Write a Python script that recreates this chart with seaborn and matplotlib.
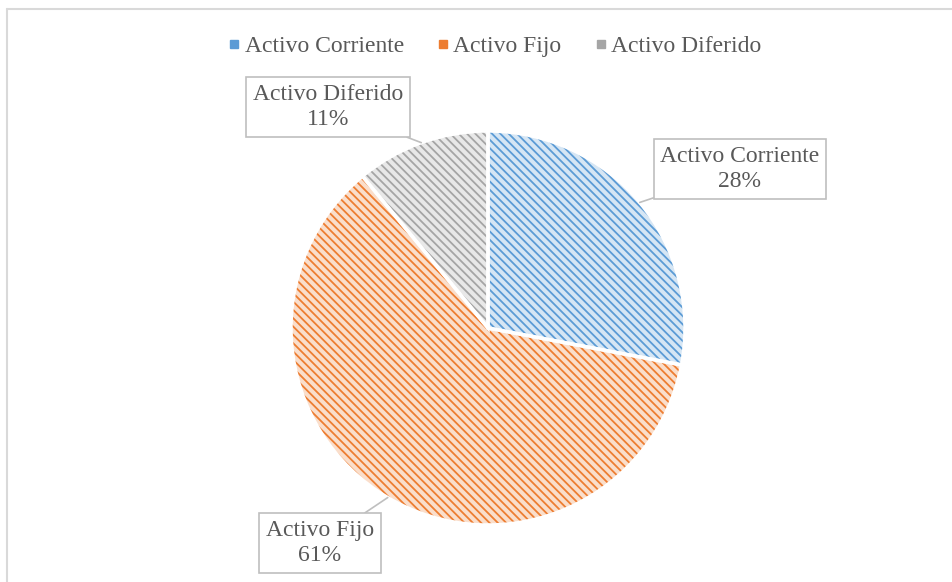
import numpy as np
import seaborn as sns
import matplotlib.pyplot as plt
from matplotlib.lines import Line2D

sns.set_theme(style="white")
plt.rcParams['font.family'] = ['Liberation Serif', 'DejaVu Serif']
plt.rcParams['hatch.linewidth'] = 1.3

# datos del grafico
categorias = ['Activo Corriente', 'Activo Fijo', 'Activo Diferido']
porcentajes = [28, 61, 11]
colores = ['#5B9BD5', '#ED7D31', '#A5A5A5']

gris_texto = '#595959'
gris_borde = '#BFBFBF'

fondos = [sns.blend_palette(['white', c], 5)[1] for c in colores]

fig = plt.figure(figsize=(9.53, 5.82), dpi=100)
cx, cy, r = 488, 328, 197
ax = fig.add_axes([(cx - r) / 953, (582 - cy - r) / 582, 2 * r / 953, 2 * r / 582])

# relleno claro
wedges, _ = ax.pie(porcentajes, colors=fondos, startangle=90, counterclock=False,
                   wedgeprops=dict(linewidth=0))
# rayado
hatch, _ = ax.pie(porcentajes, startangle=90, counterclock=False,
                  wedgeprops=dict(facecolor='none', linewidth=0))
for w, c in zip(hatch, colores):
    w.set_edgecolor(c)
    w.set_hatch('\\\\\\\\')
# bordes blancos
ax.pie(porcentajes, startangle=90, counterclock=False,
       wedgeprops=dict(facecolor='none', edgecolor='white', linewidth=2.5))

ax.set_xlim(-1, 1)
ax.set_ylim(-1, 1)
ax.set_aspect('equal')

# etiquetas con callout
cajas = {'Activo Corriente': (740, 169), 'Activo Fijo': (320, 543), 'Activo Diferido': (328, 107)}
for w, cat, p in zip(wedges, categorias, porcentajes):
    ang = np.deg2rad((w.theta1 + w.theta2) / 2)
    xy = (np.cos(ang), np.sin(ang))
    bx, by = cajas[cat]
    ax.annotate(f'{cat}\n{p}%', xy=xy, xytext=((bx - cx) / r, (cy - by) / r),
                ha='center', va='center', fontsize=17, color=gris_texto,
                linespacing=1.25, annotation_clip=False,
                bbox=dict(boxstyle='square,pad=0.28', fc='white', ec=gris_borde, lw=1.2),
                arrowprops=dict(arrowstyle='-', color=gris_borde, lw=1.2,
                                shrinkA=0, shrinkB=0))

# leyenda
handles = [Line2D([], [], marker='s', linestyle='', markersize=6,
                  markerfacecolor=c, markeredgecolor=c) for c in colores]
fig.legend(handles, categorias, loc='center', bbox_to_anchor=(493 / 953, 1 - 46 / 582),
           ncol=3, frameon=False, fontsize=17, labelcolor=gris_texto,
           handletextpad=0.05, columnspacing=1.25, handlelength=0.8)

# marco
fig.add_artist(Line2D([7 / 953, 1], [1 - 9 / 582] * 2, transform=fig.transFigure,
                      color='#D9D9D9', lw=1.5))
fig.add_artist(Line2D([7 / 953] * 2, [0, 1 - 9 / 582], transform=fig.transFigure,
                      color='#D9D9D9', lw=1.5))

fig.savefig('out.png', dpi=100)
